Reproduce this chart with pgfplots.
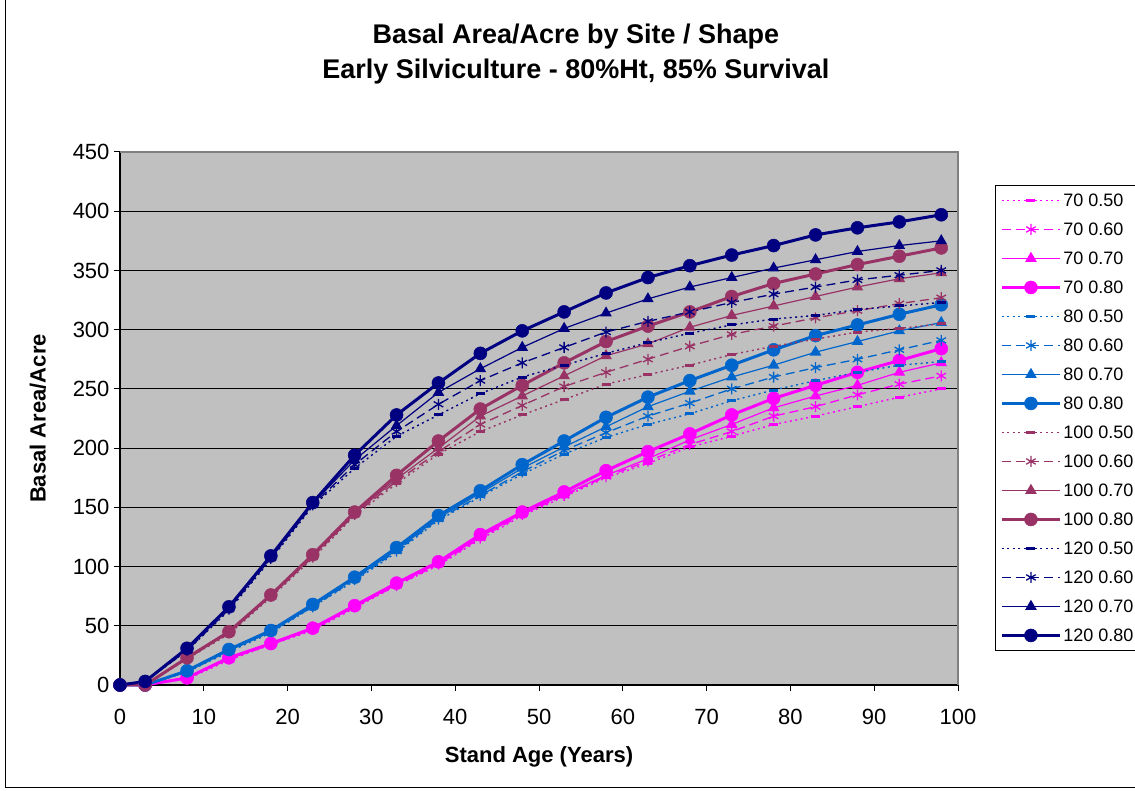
\documentclass[border=0pt]{standalone}
\usepackage{pgfplots}
\pgfplotsset{compat=1.18}
\usepackage{pgfplotstable}
\usepackage{fontspec}
\setmainfont{Liberation Sans}

\definecolor{plotgray}{HTML}{C0C0C0}
\definecolor{cMag}{HTML}{FF00FF}
\definecolor{cBlue}{HTML}{0066CC}
\definecolor{cMaroon}{HTML}{993366}
\definecolor{cNavy}{HTML}{000080}

% Basal area per acre by site index (70/80/100/120) and shape (0.50-0.80)
\pgfplotstableread{
age m50 m60 m70 m80 b50 b60 b70 b80 r50 r60 r70 r80 n50 n60 n70 n80
0   0   0   0   0   0   0   0   0   0   0   0   0   0   0   0   0
3   0   0   0   0   0   0   0   0   0   0   0   0   3   3   3   3
8   5   6   6   6   11  11  12  12  22  22  23  23  29  29  30  31
13  21  22  22  23  28  29  29  30  43  44  44  45  63  64  65  66
18  34  34  35  35  44  45  45  46  74  75  75  76  106 107 108 109
23  46  47  47  48  66  66  67  68  107 108 109 110 151 152 153 154
28  65  66  66  67  88  89  90  91  143 144 145 146 183 186 190 194
33  84  84  85  86  112 113 114 116 170 172 174 177 210 214 219 228
38  101 102 103 104 139 140 141 143 195 197 200 206 228 237 247 255
43  123 124 125 127 159 160 162 164 214 220 227 233 246 257 267 280
48  143 144 145 146 178 180 183 186 228 236 244 253 260 272 285 299
53  159 160 161 163 195 198 201 206 241 252 261 272 270 285 301 315
58  175 176 177 181 209 213 218 226 254 264 278 290 280 298 314 331
63  187 189 191 197 220 227 235 243 262 275 288 303 289 307 326 344
68  201 203 207 212 229 238 248 257 270 286 302 315 297 315 336 354
73  210 214 220 228 240 250 260 270 279 296 312 328 304 323 344 363
78  220 227 234 242 249 260 270 283 286 303 320 339 309 330 352 371
83  227 235 244 253 257 268 281 295 292 310 328 347 312 336 359 380
88  235 245 253 264 264 275 290 304 298 316 336 355 317 342 366 386
93  243 254 264 274 270 283 299 313 301 322 343 362 320 346 371 391
98  250 261 272 284 273 291 306 321 305 327 348 369 323 350 375 397
}\datatable

\pgfplotsset{
  s50/.style={line width=1.4pt, dash pattern=on 2pt off 3.5pt,
    mark=-, mark size=4.5pt, mark options={solid, line width=3pt}},
  s60/.style={line width=1.3pt, dash pattern=on 9pt off 5pt,
    mark=asterisk, mark size=5.5pt, mark options={solid, line width=1.3pt}},
  s70/.style={line width=1.2pt, solid,
    mark=triangle*, mark size=5.5pt, mark options={solid}},
  s80/.style={line width=3pt, solid,
    mark=*, mark size=6.5pt, mark options={solid, line width=0.5pt}},
}

\begin{document}
\begin{tikzpicture}
\useasboundingbox (0pt,0pt) rectangle (1135pt,790pt);
\fill[white] (0pt,0pt) rectangle (1135pt,790pt);
\draw[black, line width=1pt] (5.5pt,860pt) |- (1200pt,2.5pt);
\begin{axis}[
  scale only axis,
  width=838pt, height=533pt,
  at={(120pt,105pt)}, anchor=south west,
  xmin=0, xmax=100, ymin=0, ymax=450,
  xtick={0,10,...,100}, ytick={0,50,...,450},
  axis lines=left,
  axis line style={-, black, line width=1.2pt},
  axis background/.style={fill=plotgray},
  ymajorgrids,
  grid style={black, line width=1.1pt},
  tick align=outside,
  major tick length=6pt,
  tick style={black, line width=1pt},
  /pgf/number format/assume math mode=true,
  tick label style={font=\fontsize{22}{26}\selectfont},
  xticklabel style={yshift=-15pt},
  yticklabel style={xshift=-1pt},
  clip=false,
  title={Basal Area/Acre by Site / Shape\\Early Silviculture - 80\%Ht, 85\% Survival},
  title style={at={(rel axis cs:0.544,1.1726)}, anchor=center, align=center,
    font=\bfseries\fontsize{27}{35}\selectfont},
  xlabel={Stand Age (Years)},
  ylabel={Basal Area/Acre},
  xlabel style={at={(rel axis cs:0.5,-0.135)}, anchor=center,
    font=\bfseries\fontsize{22}{26}\selectfont},
  ylabel style={at={(rel axis cs:-0.098,0.5)}, anchor=center, rotate=0,
    font=\bfseries\fontsize{22}{26}\selectfont},
  legend cell align=left,
  legend image code/.code={
    \path[draw=none, fill=none] (0pt,-8pt) rectangle (58pt,8pt);
    \draw[mark repeat=2, mark phase=2] plot coordinates {(0pt,0pt) (29pt,0pt) (58pt,0pt)};
  },
  legend style={at={(rel axis cs:1.0442,0.938)}, anchor=north west,
    draw=black, line width=0.8pt, fill=white,
    font=\fontsize{18}{18}\selectfont,
    inner xsep=5pt, inner ysep=7pt, row sep=13pt, column sep=2pt,
    nodes={inner sep=0pt, text height=13pt, text depth=0pt}},
  after end axis/.code={
    \draw[gray, line width=1.5pt] (rel axis cs:0,1) -- (rel axis cs:1,1) -- (rel axis cs:1,0);
  },
]
\addplot[color=cMag, s50] table[x=age, y=m50] {\datatable};
\addlegendentry{70 0.50}
\addplot[color=cMag, s60] table[x=age, y=m60] {\datatable};
\addlegendentry{70 0.60}
\addplot[color=cMag, s70] table[x=age, y=m70] {\datatable};
\addlegendentry{70 0.70}
\addplot[color=cMag, s80] table[x=age, y=m80] {\datatable};
\addlegendentry{70 0.80}
\addplot[color=cBlue, s50] table[x=age, y=b50] {\datatable};
\addlegendentry{80 0.50}
\addplot[color=cBlue, s60] table[x=age, y=b60] {\datatable};
\addlegendentry{80 0.60}
\addplot[color=cBlue, s70] table[x=age, y=b70] {\datatable};
\addlegendentry{80 0.70}
\addplot[color=cBlue, s80] table[x=age, y=b80] {\datatable};
\addlegendentry{80 0.80}
\addplot[color=cMaroon, s50] table[x=age, y=r50] {\datatable};
\addlegendentry{100 0.50}
\addplot[color=cMaroon, s60] table[x=age, y=r60] {\datatable};
\addlegendentry{100 0.60}
\addplot[color=cMaroon, s70] table[x=age, y=r70] {\datatable};
\addlegendentry{100 0.70}
\addplot[color=cMaroon, s80] table[x=age, y=r80] {\datatable};
\addlegendentry{100 0.80}
\addplot[color=cNavy, s50] table[x=age, y=n50] {\datatable};
\addlegendentry{120 0.50}
\addplot[color=cNavy, s60] table[x=age, y=n60] {\datatable};
\addlegendentry{120 0.60}
\addplot[color=cNavy, s70] table[x=age, y=n70] {\datatable};
\addlegendentry{120 0.70}
\addplot[color=cNavy, s80] table[x=age, y=n80] {\datatable};
\addlegendentry{120 0.80}
\end{axis}
\end{tikzpicture}
\end{document}
